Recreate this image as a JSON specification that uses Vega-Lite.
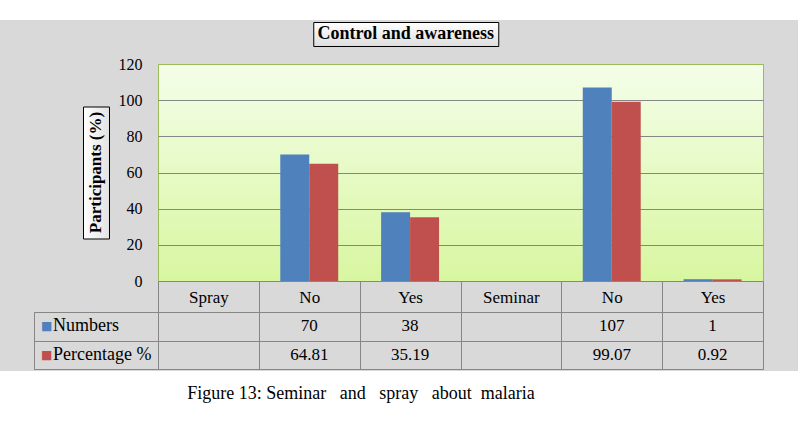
{
  "$schema": "https://vega.github.io/schema/vega-lite/v6.json",
  "background": "#d9d9d9",
  "padding": {"left": 0, "top": 0, "right": 0, "bottom": 0},
  "datasets": {
    "answers": [
      {"column": "Spray: No", "series": "Numbers", "value": 70},
      {"column": "Spray: No", "series": "Percentage %", "value": 64.81},
      {"column": "Spray: Yes", "series": "Numbers", "value": 38},
      {"column": "Spray: Yes", "series": "Percentage %", "value": 35.19},
      {"column": "Seminar: No", "series": "Numbers", "value": 107},
      {"column": "Seminar: No", "series": "Percentage %", "value": 99.07},
      {"column": "Seminar: Yes", "series": "Numbers", "value": 1},
      {"column": "Seminar: Yes", "series": "Percentage %", "value": 0.92}
    ]
  },
  "vconcat": [
    {
      "width": 798,
      "height": 20,
      "data": {"values": []},
      "mark": "text",
      "view": {"fill": "white", "stroke": null}
    },
    {
      "vconcat": [
        {
          "hconcat": [
            {
              "width": 13,
              "height": 24,
              "data": {"values": []},
              "mark": "text",
              "view": {"stroke": null}
            },
            {
              "width": 185,
              "height": 24,
              "data": {"values": [{"t": "Control and awareness"}]},
              "mark": {"type": "text", "font": "Liberation Serif", "fontSize": 18, "fontWeight": "bold"},
              "encoding": {"text": {"field": "t"}},
              "view": {
                "stroke": "black",
                "fill": {
                  "gradient": "linear", "x1": 0, "y1": 0, "x2": 0, "y2": 1,
                  "stops": [{"offset": 0, "color": "#ffffff"}, {"offset": 1, "color": "#dedede"}]
                }
              }
            }
          ],
          "spacing": 0
        },
        {
          "columns": 2,
          "bounds": "flush",
          "center": true,
          "spacing": {"row": 31, "column": 0},
          "concat": [
            {
              "width": 26,
              "height": 132,
              "data": {"values": [{"t": "Participants (%)"}]},
              "mark": {"type": "text", "font": "Liberation Serif", "angle": 270, "fontSize": 17, "fontWeight": "bold"},
              "encoding": {"text": {"field": "t"}},
              "view": {
                "stroke": "black",
                "fill": {
                  "gradient": "linear", "x1": 0, "y1": 0, "x2": 1, "y2": 0,
                  "stops": [{"offset": 0, "color": "#ffffff"}, {"offset": 1, "color": "#e2e2e2"}]
                }
              }
            },
            {
              "width": 605,
              "height": 217,
              "data": {"name": "answers"},
              "mark": "bar",
              "encoding": {
                "x": {
                  "field": "column",
                  "type": "nominal",
                  "scale": {
                    "domain": ["Spray", "Spray: No", "Spray: Yes", "Seminar", "Seminar: No", "Seminar: Yes"],
                    "paddingInner": 0,
                    "paddingOuter": 0
                  },
                  "axis": {
                    "title": null,
                    "labelExpr": "indexof(datum.label, ': ') > 0 ? substring(datum.label, indexof(datum.label, ': ') + 2) : datum.label",
                    "labelFont": "Liberation Serif",
                    "labelFontSize": 17,
                    "labelColor": "black",
                    "labelAngle": 0,
                    "labelPadding": -15,
                    "labelBaseline": "middle",
                    "tickBand": "extent",
                    "tickSize": 31,
                    "tickColor": "#868686",
                    "domain": false,
                    "grid": false
                  }
                },
                "xOffset": {
                  "field": "series",
                  "type": "nominal",
                  "scale": {"domain": ["Numbers", "Percentage %"], "paddingInner": 0, "paddingOuter": 0.74}
                },
                "y": {
                  "field": "value",
                  "type": "quantitative",
                  "scale": {"domain": [0, 120], "nice": false},
                  "axis": {
                    "title": null,
                    "tickCount": 6,
                    "ticks": false,
                    "domain": false,
                    "labelFont": "Liberation Serif",
                    "labelFontSize": 16,
                    "labelColor": "black",
                    "labelPadding": 16,
                    "gridColor": {"condition": {"test": "datum.value === 120", "value": "#9bbb59"}, "value": "#868686"}
                  }
                },
                "color": {
                  "field": "series",
                  "type": "nominal",
                  "scale": {"domain": ["Numbers", "Percentage %"], "range": ["#4f81bd", "#c0504d"]},
                  "legend": null
                },
                "tooltip": [
                  {"field": "column", "title": "Column"},
                  {"field": "series", "title": "Series"},
                  {"field": "value", "title": "Value"}
                ]
              },
              "view": {
                "stroke": "#9bbb59",
                "fill": {
                  "gradient": "linear", "x1": 0, "y1": 0, "x2": 0, "y2": 1,
                  "stops": [{"offset": 0, "color": "#f4fee9"}, {"offset": 1, "color": "#d8f6a0"}]
                }
              }
            },
            {
              "width": 124,
              "height": 57,
              "data": {"values": [{"series": "Numbers"}, {"series": "Percentage %"}]},
              "encoding": {
                "y": {
                  "field": "series",
                  "type": "nominal",
                  "scale": {"domain": ["Numbers", "Percentage %"], "paddingInner": 0, "paddingOuter": 0},
                  "axis": {
                    "title": null, "labels": false, "ticks": false, "domain": false,
                    "grid": true, "gridColor": "#868686", "tickBand": "extent"
                  }
                }
              },
              "layer": [
                {
                  "mark": {"type": "text", "text": "■", "font": "DejaVu Sans", "fontSize": 12, "align": "left", "dx": -55},
                  "encoding": {
                    "color": {
                      "field": "series",
                      "type": "nominal",
                      "scale": {"domain": ["Numbers", "Percentage %"], "range": ["#4f81bd", "#c0504d"]},
                      "legend": null
                    }
                  }
                },
                {
                  "mark": {"type": "text", "font": "Liberation Serif", "align": "left", "dx": -43, "fontSize": 18},
                  "encoding": {"text": {"field": "series"}}
                }
              ],
              "view": {"stroke": "#868686"}
            },
            {
              "width": 605,
              "height": 57,
              "data": {"name": "answers"},
              "mark": {"type": "text", "font": "Liberation Serif", "fontSize": 17},
              "encoding": {
                "x": {
                  "field": "column",
                  "type": "nominal",
                  "scale": {
                    "domain": ["Spray", "Spray: No", "Spray: Yes", "Seminar", "Seminar: No", "Seminar: Yes"],
                    "paddingInner": 0,
                    "paddingOuter": 0
                  },
                  "axis": {
                    "title": null, "labels": false, "ticks": false, "domain": false,
                    "grid": true, "gridColor": "#868686", "tickBand": "extent"
                  }
                },
                "y": {
                  "field": "series",
                  "type": "nominal",
                  "scale": {"domain": ["Numbers", "Percentage %"], "paddingInner": 0, "paddingOuter": 0},
                  "axis": {
                    "title": null, "labels": false, "ticks": false, "domain": false,
                    "grid": true, "gridColor": "#868686", "tickBand": "extent"
                  }
                },
                "text": {"field": "value", "type": "nominal"}
              },
              "view": {"stroke": "#868686"}
            }
          ]
        }
      ],
      "spacing": 8,
      "center": true
    },
    {
      "width": 798,
      "height": 63,
      "data": {"values": [{"t": "Figure 13: Seminar\u00a0\u00a0\u00a0and\u00a0\u00a0\u00a0spray\u00a0\u00a0\u00a0about\u00a0\u00a0malaria"}]},
      "mark": {"type": "text", "font": "Liberation Serif", "fontSize": 18, "dx": -38, "dy": -9},
      "encoding": {"text": {"field": "t"}},
      "view": {"fill": "white", "stroke": null}
    }
  ],
  "spacing": 1,
  "center": true,
  "config": {
    "font": "Liberation Serif",
    "view": {"stroke": null},
    "axis": {"labelFont": "Liberation Serif"},
    "text": {"color": "black", "font": "Liberation Serif"}
  }
}
